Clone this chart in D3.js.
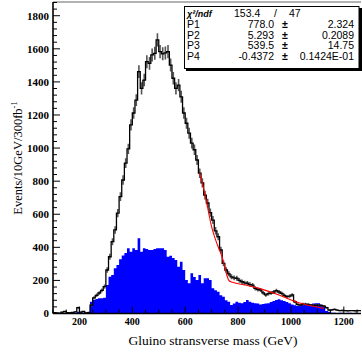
<!DOCTYPE html>
<html>
<head>
<meta charset="utf-8">
<script src="https://cdn.jsdelivr.net/npm/d3@7"></script>
<style>
  body { margin: 0; background: #fff; }
  svg { display: block; }
</style>
</head>
<body>
<div id="chart"></div>
<script>
// Bin low edges (10 GeV bins)
const binStart = d3.range(100, 1270, 10);
const binWidth = 10;

// Signal + background (black, with errors)
const totalCounts = [
  5, 3, 2, 8, 12, 5, 4, 6, 10, 35,
  8, 12, 3, 5, 50, 94, 110, 124, 140, 162,
  263, 343, 434, 505, 607, 706, 807, 909, 995, 1140,
  1212, 1290, 1462, 1361, 1411, 1522, 1512, 1563, 1573, 1654,
  1583, 1570, 1575, 1583, 1502, 1422, 1361, 1380, 1310, 1212,
  1150, 1090, 1030, 990, 928, 848, 790, 716, 668, 610,
  565, 500, 464, 384, 303, 263, 240, 222, 215, 213,
  200, 192, 185, 183, 175, 172, 152, 145, 142, 125,
  112, 120, 124, 130, 138, 130, 122, 110, 102, 105,
  112, 71, 55, 51, 57, 57, 55, 51, 51, 50,
  51, 48, 45, 35, 21, 22, 25, 20, 17, 18,
  17, 16, 17, 17, 16, 17, 17
];

// Background only (blue fill)
const bkgCounts = [
  3, 2, 2, 5, 3, 2, 4, 3, 5, 10,
  8, 5, 2, 10, 71, 82, 88, 92, 92, 95,
  172, 222, 233, 273, 293, 328, 350, 365, 394, 374,
  394, 384, 455, 374, 394, 390, 384, 384, 390, 394,
  394, 394, 384, 343, 349, 335, 323, 283, 313, 263,
  203, 183, 243, 220, 203, 233, 183, 213, 213, 203,
  152, 140, 132, 110, 102, 80, 71, 51, 60, 71,
  65, 62, 70, 82, 71, 65, 62, 60, 55, 57,
  60, 62, 70, 75, 82, 86, 80, 76, 70, 62,
  55, 50, 45, 48, 51, 55, 57, 57, 60, 62,
  62, 55, 41, 15, 10, 5, 4, 3, 5, 4,
  3, 5, 4, 3, 4, 3, 3
];

// Fit curve (red)
const fitMass = [655, 672, 703, 722, 741, 754, 760, 766, 779, 829, 892, 955, 1018, 1080, 1125];
const fitValue = [850, 740, 505, 414, 334, 253, 219, 198, 189, 172, 146, 112, 71, 45, 31];

// Fit statistics box
const statNames = ["P1", "P2", "P3", "P4"];
const statValues = ["778.0", "5.293", "539.5", "-0.4372"];
const statErrors = ["2.324", "0.2089", "14.75", "0.1424E-01"];

const xTicks = [200, 400, 600, 800, 1000, 1200];
const yTicks = [0, 200, 400, 600, 800, 1000, 1200, 1400, 1600, 1800];

const W = 362, H = 355;
const frameL = 53, frameR = 361, frameT = 2, frameB = 313.5;

const svg = d3.select("#chart").append("svg")
    .attr("width", W)
    .attr("height", H);

const x = d3.scaleLinear().domain([100, 1265]).range([frameL, frameR]);
const y = d3.scaleLinear().domain([0, 1883]).range([frameB, frameT]);

svg.append("clipPath").attr("id", "frame")
    .append("rect")
        .attr("x", frameL).attr("y", frameT)
        .attr("width", frameR - frameL).attr("height", frameB - frameT);

const plot = svg.append("g").attr("clip-path", "url(#frame)");

// step points: each bin gives its low edge; add closing edge
function stepPoints(counts) {
    let pts = binStart.map((b, i) => [b, counts[i]]);
    pts.push([binStart[binStart.length - 1] + binWidth, counts[counts.length - 1]]);
    return pts;
}

// Background histogram
plot.append("path")
    .datum(stepPoints(bkgCounts))
    .attr("fill", "#0000ff")
    .attr("d", d3.area()
        .curve(d3.curveStepAfter)
        .x(d => x(d[0]))
        .y0(y(0))
        .y1(d => y(d[1])));

// Error bars for the total
plot.append("g")
    .selectAll("line")
    .data(binStart.map((b, i) => ({m: b + binWidth / 2, v: totalCounts[i]})))
    .join("line")
        .attr("x1", d => x(d.m))
        .attr("x2", d => x(d.m))
        .attr("y1", d => y(d.v - Math.sqrt(d.v)))
        .attr("y2", d => y(d.v + Math.sqrt(d.v)))
        .attr("stroke", "#555")
        .attr("stroke-width", 1.6);

// Total histogram outline
plot.append("path")
    .datum(stepPoints(totalCounts))
    .attr("fill", "none")
    .attr("stroke", "#000")
    .attr("stroke-width", 1.3)
    .attr("d", d3.line()
        .curve(d3.curveStepAfter)
        .x(d => x(d[0]))
        .y(d => y(d[1])));

// Fit curve
plot.append("path")
    .datum(fitMass.map((m, i) => [m, fitValue[i]]))
    .attr("fill", "none")
    .attr("stroke", "#ff0000")
    .attr("stroke-width", 1.1)
    .attr("d", d3.line()
        .curve(d3.curveMonotoneX)
        .x(d => x(d[0]))
        .y(d => y(d[1])));

// Frame top
svg.append("line")
    .attr("x1", frameL).attr("x2", frameR)
    .attr("y1", frameT).attr("y2", frameT)
    .attr("stroke", "#666").attr("stroke-width", 1);

// Axes, ticks drawn inward ROOT style
const axisG = svg.append("g");

axisG.selectAll(".xtick")
    .data(d3.range(100, 1265, 50))
    .join("line")
        .attr("x1", d => x(d)).attr("x2", d => x(d))
        .attr("y1", frameB).attr("y2", d => frameB - (d % 200 === 0 ? 7 : 4))
        .attr("stroke", "#000").attr("stroke-width", 1);

axisG.selectAll(".ytick")
    .data(d3.range(0, 1883, 40))
    .join("line")
        .attr("x1", frameL).attr("x2", d => frameL + (d % 200 === 0 ? 7 : 4))
        .attr("y1", d => y(d)).attr("y2", d => y(d))
        .attr("stroke", "#000").attr("stroke-width", 1);

axisG.append("line")
    .attr("x1", frameL).attr("x2", frameR)
    .attr("y1", frameB).attr("y2", frameB)
    .attr("stroke", "#000").attr("stroke-width", 1.6);
axisG.append("line")
    .attr("x1", frameL).attr("x2", frameL)
    .attr("y1", frameT).attr("y2", frameB)
    .attr("stroke", "#000").attr("stroke-width", 1.6);

// tick labels
axisG.selectAll(".xlab")
    .data(xTicks)
    .join("text")
        .attr("x", d => x(d))
        .attr("y", 324.5)
        .attr("text-anchor", "middle")
        .attr("font-family", "Liberation Serif, serif")
        .attr("font-weight", "bold")
        .attr("font-size", 10)
        .text(d => d);

axisG.selectAll(".ylab")
    .data(yTicks)
    .join("text")
        .attr("x", 49)
        .attr("y", d => y(d) + 3.8)
        .attr("text-anchor", "end")
        .attr("font-family", "Liberation Serif, serif")
        .attr("font-weight", "bold")
        .attr("font-size", 11)
        .text(d => d);

// axis titles
svg.append("text")
    .attr("x", 213)
    .attr("y", 345)
    .attr("text-anchor", "middle")
    .attr("font-family", "Liberation Serif, serif")
    .attr("font-size", 13.5)
    .text("Gluino stransverse mass (GeV)");

let ytitle = svg.append("text")
    .attr("transform", "translate(22,158) rotate(-90)")
    .attr("text-anchor", "middle")
    .attr("font-family", "Liberation Serif, serif")
    .attr("font-size", 12.5);
ytitle.append("tspan").text("Events/10GeV/300fb");
ytitle.append("tspan").attr("dy", -5).attr("font-size", 8.5).text("-1");

// Stats box
const box = svg.append("g");
box.append("rect")
    .attr("x", 186).attr("y", 8)
    .attr("width", 176).attr("height", 63)
    .attr("fill", "#000");
box.append("rect")
    .attr("x", 184.5).attr("y", 6.5)
    .attr("width", 174.5).attr("height", 62)
    .attr("fill", "#fff")
    .attr("stroke", "#000").attr("stroke-width", 1);

const sFont = "Liberation Sans, Arial, sans-serif";
box.append("text")
    .attr("x", 187).attr("y", 17)
    .attr("font-family", sFont)
    .attr("font-size", 9)
    .attr("font-weight", "bold")
    .attr("font-style", "italic")
    .text("χ²/ndf");
box.append("text")
    .attr("x", 234).attr("y", 17)
    .attr("font-family", sFont).attr("font-size", 10.5)
    .text("153.4");
box.append("text")
    .attr("x", 274).attr("y", 17)
    .attr("font-family", sFont).attr("font-size", 10.5)
    .text("/");
box.append("text")
    .attr("x", 289).attr("y", 17)
    .attr("font-family", sFont).attr("font-size", 10.5)
    .text("47");

const rows = box.selectAll(".row")
    .data(statNames)
    .join("g")
        .attr("transform", (d, i) => `translate(0,${27.8 + i * 10.7})`);
rows.append("text")
    .attr("x", 187)
    .attr("font-family", sFont).attr("font-size", 10.5)
    .text(d => d);
rows.append("text")
    .attr("x", 274)
    .attr("text-anchor", "end")
    .attr("font-family", sFont).attr("font-size", 10.5)
    .text((d, i) => statValues[i]);
rows.append("text")
    .attr("x", 285)
    .attr("text-anchor", "middle")
    .attr("font-family", sFont).attr("font-size", 10.5)
    .attr("font-weight", "bold")
    .text("±");
rows.append("text")
    .attr("x", 354)
    .attr("text-anchor", "end")
    .attr("font-family", sFont).attr("font-size", 10.5)
    .text((d, i) => statErrors[i]);
</script>
</body>
</html>
